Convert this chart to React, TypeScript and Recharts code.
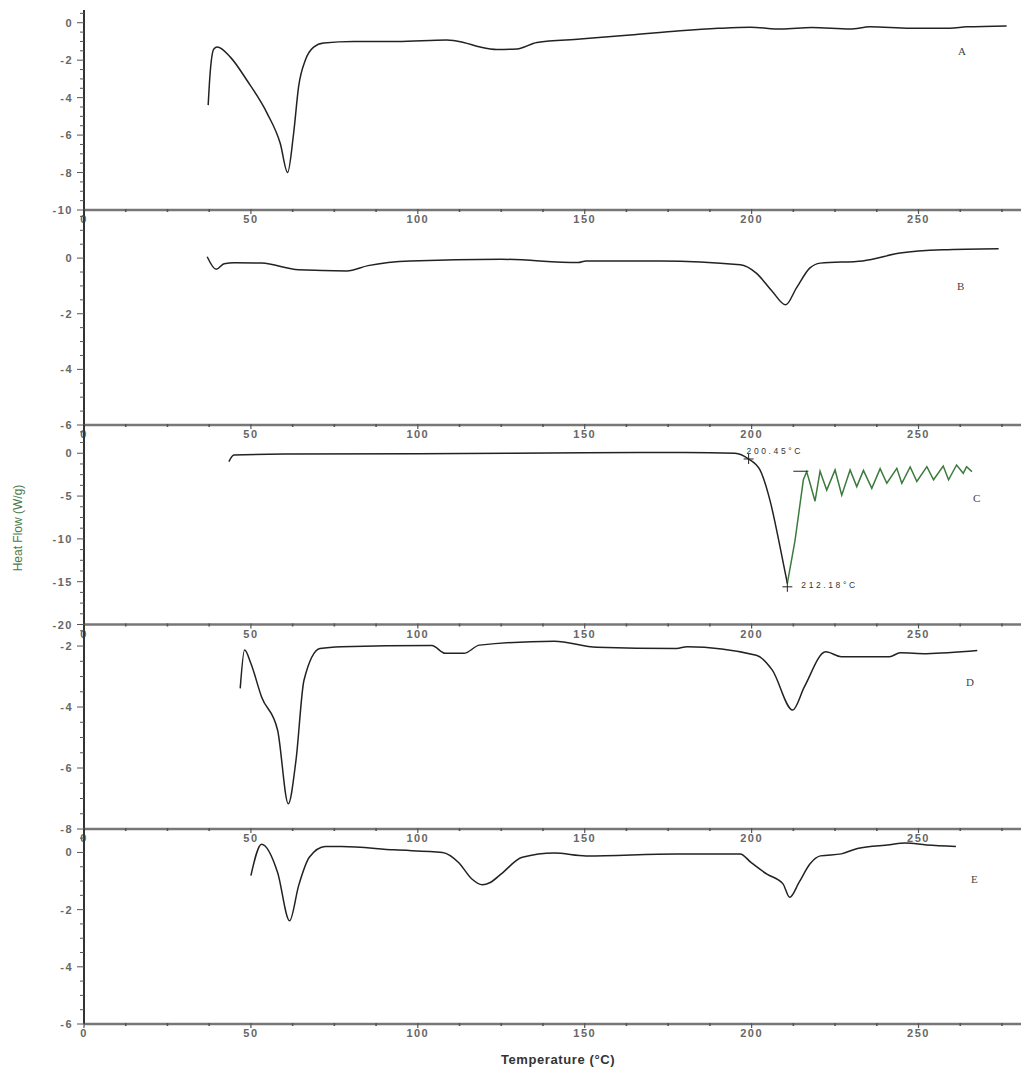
import { LineChart, Line, XAxis, YAxis, ReferenceDot, ReferenceLine } from 'recharts';

// DSC thermograms, temperature (°C) vs heat flow (W/g)
const aTemp = [37.2, 37.7, 38.9, 39.9, 43.9, 48.9, 54.9, 58.8, 61.0, 62.8, 64.3, 66.3, 68.8, 71.8, 80.8, 93.8, 108.7, 113.7, 118.7, 123.7, 129.7, 135.7, 148.7, 163.6, 178.6, 190, 199.6, 209, 218, 229.5, 235.5, 247.5, 259.4, 264.4, 276.4];
const aFlow = [-4.4, -2.9, -1.4, -1.3, -1.85, -3.1, -4.85, -6.45, -8.0, -5.9, -3.4, -2.0, -1.3, -1.08, -1.0, -1.0, -0.92, -1.05, -1.3, -1.43, -1.4, -1.05, -0.87, -0.66, -0.43, -0.3, -0.24, -0.34, -0.26, -0.34, -0.22, -0.3, -0.3, -0.22, -0.17];

const bTemp = [36.9, 39.6, 42.0, 45, 53.2, 64.3, 78.7, 85.1, 97.8, 124.9, 148, 150.4, 172.7, 196.6, 201.4, 206.2, 210.2, 213.4, 217.4, 220.6, 233.3, 244.5, 257.2, 274];
const bFlow = [0.05, -0.4, -0.2, -0.17, -0.18, -0.42, -0.46, -0.27, -0.1, -0.04, -0.16, -0.1, -0.1, -0.24, -0.54, -1.2, -1.68, -1.08, -0.36, -0.18, -0.1, 0.18, 0.3, 0.34];

const cTemp = [43.4, 44.9, 60, 100, 150, 180, 195, 199.1, 202.5, 205.5, 208.5, 210.7];
const cFlow = [-0.98, -0.2, -0.1, -0.05, 0.05, 0.1, 0.0, -0.67, -1.95, -5.5, -10.9, -15.2];
const cTailTemp = [210.7, 213, 215.5, 216.5, 217.5, 219, 220.5, 222.5, 225, 227, 229.5, 231.5, 233.5, 236, 238.5, 240.5, 243.5, 245, 247.5, 249.5, 252.5, 254.5, 257.4, 259, 261.4, 263.4, 264.4, 266];
const cTailFlow = [-15.2, -10.2, -3.1, -2.15, -3.5, -5.6, -2.1, -4.3, -1.95, -4.9, -1.95, -3.9, -2.0, -4.1, -1.8, -3.5, -1.76, -3.5, -1.6, -3.3, -1.57, -3.1, -1.5, -3.1, -1.37, -2.34, -1.57, -2.15];

const dTemp = [46.8, 48.1, 50, 53.2, 58, 61.2, 63.5, 65.9, 70.7, 77.1, 104.2, 108.2, 113.8, 118.5, 140.9, 153.6, 177.5, 180.7, 201.4, 206.2, 212.3, 215.8, 222.2, 226.9, 241.3, 244.5, 252.4, 267.6];
const dFlow = [-3.39, -2.13, -2.57, -3.67, -4.76, -7.17, -5.75, -3.12, -2.08, -2.02, -1.98, -2.24, -2.24, -1.97, -1.84, -2.04, -2.08, -2.02, -2.3, -2.79, -4.1, -3.34, -2.19, -2.35, -2.35, -2.22, -2.25, -2.15];

const eTemp = [50, 53.2, 58, 61.6, 64.3, 67.5, 72.3, 77.1, 93, 107.4, 112.2, 116.2, 119.3, 121.7, 124.9, 131.3, 140.9, 150.4, 177.5, 196.6, 199.8, 204.6, 209.4, 211.4, 214.2, 217.4, 220.6, 226.9, 231.7, 241.3, 246, 252.4, 261.2];
const eFlow = [-0.81, 0.29, -0.7, -2.39, -1.16, -0.17, 0.21, 0.21, 0.09, 0, -0.35, -0.93, -1.13, -1.05, -0.76, -0.17, -0.02, -0.12, -0.05, -0.05, -0.35, -0.76, -1.1, -1.57, -1.05, -0.41, -0.12, -0.05, 0.14, 0.27, 0.33, 0.26, 0.21];

const xMajor = [0, 50, 100, 150, 200, 250];
const onsetLabel = '200.45°C';
const peakLabel = '212.18°C';

const X_MAX = 280.7;
const xTicks: number[] = [];
for (let t = 0; t <= 275; t += 12.5) xTicks.push(t);

const zip = (ts: number[], vs: number[]) => ts.map((t, i) => ({ t, v: vs[i] }));

const makeTicks = (lo: number, hi: number, step: number) => {
  const out: number[] = [];
  for (let v = lo; v <= hi + 1e-9; v += step) out.push(Math.round(v * 100) / 100);
  return out;
};

const tickFont = { fontFamily: 'Arial, "Liberation Sans", sans-serif', fontSize: 11, fontWeight: 600, fill: '#666', letterSpacing: 1.5 };

const XTick = ({ x, y, payload }: any) => {
  const major = xMajor.includes(payload.value);
  return (
    <g>
      <line x1={x} x2={x} y1={y - 1} y2={y + (major ? 4 : 2)} stroke="#555" strokeWidth={major ? 1.2 : 1.6} />
      {major && (
        <text x={x} y={y + 13} textAnchor="middle" {...tickFont}>{payload.value}</text>
      )}
    </g>
  );
};

const YTick = ({ x, y, payload, majors }: any) => {
  const major = majors.includes(payload.value);
  return (
    <g>
      <line x1={x - (major ? 7 : 4)} x2={x} y1={y} y2={y} stroke="#555" strokeWidth={1} />
      {major && (
        <text x={x - 11} y={y + 4} textAnchor="end" {...tickFont}>{payload.value}</text>
      )}
    </g>
  );
};

const PlusMark = ({ cx, cy, text, dx, dy }: any) => (
  <g>
    <line x1={cx - 5} x2={cx + 5} y1={cy} y2={cy} stroke="#222" strokeWidth={1} />
    <line x1={cx} x2={cx} y1={cy - 5} y2={cy + 5} stroke="#222" strokeWidth={1} />
    <text x={cx + dx} y={cy + dy} fontSize={8.5} letterSpacing={2.6} fill="#333" fontFamily="Arial, sans-serif">{text}</text>
  </g>
);

type Panel = {
  top: number;
  height: number;
  domain: [number, number];
  ticks: number[];
  majors: number[];
  letter: string;
  lx: number;
  ly: number;
};

const panels: Panel[] = [
  { top: 10, height: 200, domain: [-10, 0.68], ticks: makeTicks(-10, 0.5, 0.5), majors: [0, -2, -4, -6, -8, -10], letter: 'A', lx: 963, ly: 52 },
  { top: 210, height: 215, domain: [-6, 1.73], ticks: makeTicks(-6, 1.5, 0.5), majors: [0, -2, -4, -6], letter: 'B', lx: 962, ly: 287 },
  { top: 425, height: 199.5, domain: [-20, 3.3], ticks: makeTicks(-20, 2.5, 1.25), majors: [0, -5, -10, -15, -20], letter: 'C', lx: 978, ly: 499 },
  { top: 624.5, height: 204, domain: [-8, -1.31], ticks: makeTicks(-8, -1.5, 0.5), majors: [-2, -4, -6, -8], letter: 'D', lx: 971, ly: 683 },
  { top: 828.5, height: 195, domain: [-6, 0.82], ticks: makeTicks(-6, 0.5, 0.5), majors: [0, -2, -4, -6], letter: 'E', lx: 976, ly: 880 },
];

const series = [
  [{ data: zip(aTemp, aFlow), color: '#222', type: 'monotone' }],
  [{ data: zip(bTemp, bFlow), color: '#222', type: 'monotone' }],
  [
    { data: zip(cTemp, cFlow), color: '#222', type: 'monotone' },
    { data: zip(cTailTemp, cTailFlow), color: '#3d7a3d', type: 'linear' },
  ],
  [{ data: zip(dTemp, dFlow), color: '#222', type: 'monotone' }],
  [{ data: zip(eTemp, eFlow), color: '#222', type: 'monotone' }],
];

const PanelChart = ({ p, idx }: { p: Panel; idx: number }) => (
  <div style={{ position: 'absolute', left: 0, top: p.top }}>
    <LineChart width={1021} height={p.height + 22} margin={{ top: 0, right: 0, left: 0, bottom: 0 }}>
      <XAxis
        type="number"
        dataKey="t"
        domain={[0, X_MAX]}
        ticks={xTicks}
        interval={0}
        height={22}
        tickSize={0}
        tickMargin={0}
        tickLine={false}
        axisLine={{ stroke: '#777', strokeWidth: 2.5 }}
        tick={(props: any) => <XTick {...props} />}
        allowDataOverflow
      />
      <YAxis
        type="number"
        domain={p.domain}
        ticks={p.ticks}
        interval={0}
        width={84}
        tickSize={0}
        tickMargin={0}
        tickLine={false}
        axisLine={{ stroke: '#333', strokeWidth: 2 }}
        tick={(props: any) => <YTick {...props} majors={p.majors} />}
        allowDataOverflow
      />
      {series[idx].map((s, i) => (
        <Line
          key={i}
          data={s.data}
          dataKey="v"
          type={s.type as any}
          stroke={s.color}
          strokeWidth={1.5}
          dot={false}
          isAnimationActive={false}
        />
      ))}
      {idx === 2 && (
        <ReferenceDot x={199.1} y={-0.67} r={0} shape={(props: any) => <PlusMark {...props} text={onsetLabel} dx={-2} dy={-5} />} />
      )}
      {idx === 2 && (
        <ReferenceDot x={210.7} y={-15.6} r={0} shape={(props: any) => <PlusMark {...props} text={peakLabel} dx={14} dy={1} />} />
      )}
      {idx === 2 && (
        <ReferenceLine segment={[{ x: 212.5, y: -2.1 }, { x: 217, y: -2.1 }]} stroke="#222" strokeWidth={1} />
      )}
    </LineChart>
  </div>
);

const App = () => (
  <div style={{ position: 'absolute', left: 0, top: 0, width: 1021, height: 1071, background: '#fff', overflow: 'hidden' }}>
    {panels.map((p, i) => (
      <PanelChart key={p.letter} p={p} idx={i} />
    ))}
    {panels.map((p) => (
      <div
        key={'l' + p.letter}
        style={{ position: 'absolute', left: p.lx - 5, top: p.ly - 7, fontFamily: '"Liberation Serif", serif', fontSize: 11, color: '#444' }}
      >
        {p.letter}
      </div>
    ))}
    <div
      style={{
        position: 'absolute', left: 18, top: 528, transform: 'translate(-50%, -50%) rotate(-90deg)',
        whiteSpace: 'nowrap', fontFamily: 'Arial, "Liberation Sans", sans-serif', fontSize: 12, color: '#4a7a4a',
      }}
    >
      Heat Flow (W/g)
    </div>
    <div
      style={{
        position: 'absolute', left: 558, top: 1059, transform: 'translate(-50%, -50%)',
        whiteSpace: 'nowrap', fontFamily: 'Arial, "Liberation Sans", sans-serif', fontSize: 13, fontWeight: 600, letterSpacing: 0.6, color: '#333',
      }}
    >
      Temperature (°C)
    </div>
  </div>
);

export default App;
